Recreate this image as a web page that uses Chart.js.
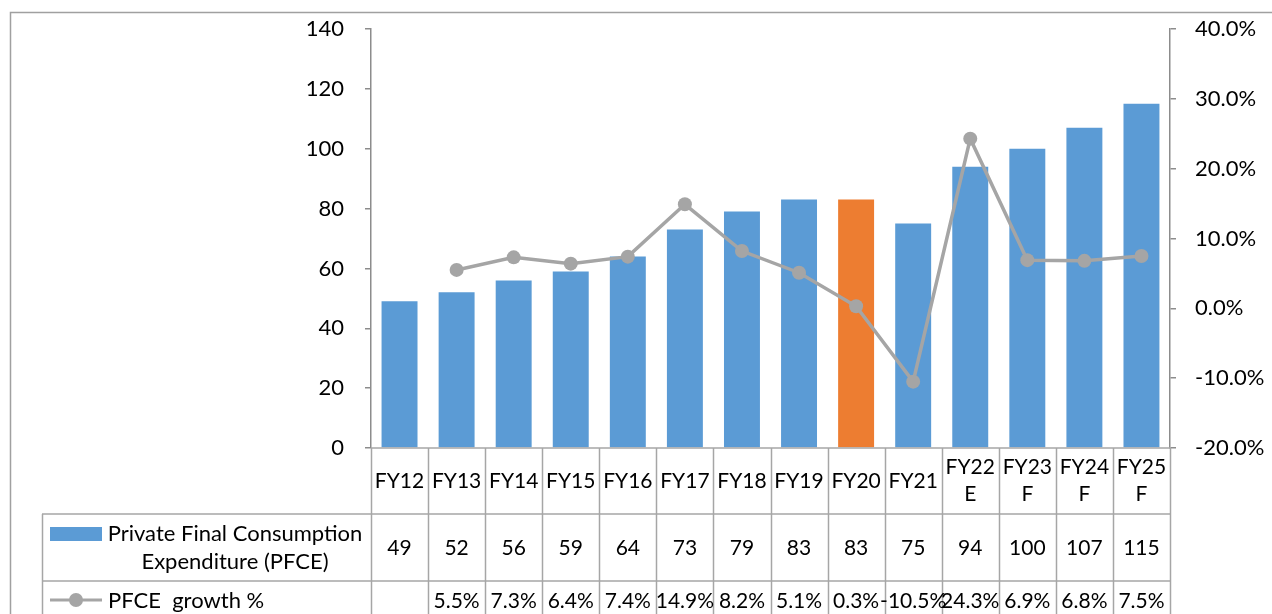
<!DOCTYPE html>
<html>
<head>
<meta charset="utf-8">
<script src="https://cdn.jsdelivr.net/npm/chart.js@4.4.1/dist/chart.umd.min.js"></script>
<style>
  html, body { margin: 0; padding: 0; background: #fff; }
  #wrap { width: 1272px; height: 614px; position: relative; }
</style>
</head>
<body>
<div id="wrap"><canvas id="myChart" width="1272" height="614"></canvas></div>
<script>
const categories = ["FY12", "FY13", "FY14", "FY15", "FY16", "FY17", "FY18", "FY19", "FY20", "FY21", "FY22 E", "FY23 F", "FY24 F", "FY25 F"];
const pfce = [49, 52, 56, 59, 64, 73, 79, 83, 83, 75, 94, 100, 107, 115];
const growth = [null, 5.5, 7.3, 6.4, 7.4, 14.9, 8.2, 5.1, 0.3, -10.5, 24.3, 6.9, 6.8, 7.5];
const leftTicks = [0, 20, 40, 60, 80, 100, 120, 140];
const rightTicks = [-20, -10, 0, 10, 20, 30, 40];

const FONT = "Lato, 'Open Sans', sans-serif";
const blue = "#5B9BD5";
const orange = "#ED7D31";
const grey = "#A5A5A5";
const axisGrey = "#8C8C8C";
const tableGrey = "#A6A6A6";

const barColors = categories.map(c => c === "FY20" ? orange : blue);

const tablePlugin = {
  id: "tablePlugin",
  beforeDraw(chart) {
    const c = chart.ctx;
    c.save();
    c.strokeStyle = "#A0A0A0";
    c.lineWidth = 1.5;
    c.beginPath();
    c.moveTo(10.5, 614);
    c.lineTo(10.5, 12.5);
    c.lineTo(1272, 12.5);
    c.stroke();
    c.restore();
  },
  afterDraw(chart) {
    const c = chart.ctx;
    const x = chart.scales.x;
    const area = chart.chartArea;
    const w = (area.right - area.left) / categories.length;
    const top = area.bottom;
    const r1 = top + 66, r2 = top + 133, bottom = 620;
    const legLeft = 42;
    c.save();
    c.strokeStyle = tableGrey;
    c.lineWidth = 1.5;
    c.beginPath();
    // horizontal lines
    c.moveTo(area.left, top); c.lineTo(area.right, top);
    c.moveTo(legLeft, r1); c.lineTo(area.right, r1);
    c.moveTo(legLeft, r2); c.lineTo(area.right, r2);
    // vertical lines
    for (let i = 0; i <= categories.length; i++) {
      const px = Math.round(area.left + i * w) + 0.5;
      c.moveTo(px, top); c.lineTo(px, bottom);
    }
    c.moveTo(legLeft + 0.5, r1); c.lineTo(legLeft + 0.5, bottom);
    c.stroke();

    c.fillStyle = "#000";
    c.font = "21px " + FONT;
    c.textAlign = "center";
    c.textBaseline = "middle";
    categories.forEach((cat, i) => {
      const cx = x.getPixelForValue(i);
      const parts = cat.split(" ");
      if (parts.length > 1) {
        c.fillText(parts[0], cx, top + 19);
        c.fillText(parts[1], cx, top + 46);
      } else {
        c.fillText(cat, cx, top + 33);
      }
      c.fillText(String(pfce[i]), cx, r1 + 34);
      if (growth[i] !== null) c.fillText(growth[i].toFixed(1) + "%", cx, r2 + 20);
    });

    // legend cells
    c.fillStyle = blue;
    c.fillRect(50, r1 + 13, 52, 14);
    c.fillStyle = "#000";
    c.font = "22px " + FONT;
    c.textAlign = "center";
    c.fillText("Private Final Consumption", 235, r1 + 20);
    c.fillText("Expenditure (PFCE)", 235, r1 + 48);
    c.strokeStyle = grey;
    c.lineWidth = 3;
    c.beginPath();
    c.moveTo(50, r2 + 19); c.lineTo(102, r2 + 19);
    c.stroke();
    c.fillStyle = grey;
    c.beginPath();
    c.arc(76, r2 + 19, 7, 0, Math.PI * 2);
    c.fill();
    c.fillStyle = "#000";
    c.textAlign = "left";
    c.fillText("PFCE  growth %", 108, r2 + 20);
    c.restore();
  }
};

const fitY = width => s => { s.width = width; s.paddingTop = 10; s.paddingBottom = 10; };

new Chart(document.getElementById("myChart"), {
  data: {
    labels: categories,
    datasets: [
      {
        type: "line",
        label: "PFCE  growth %",
        data: growth,
        yAxisID: "y1",
        borderColor: grey,
        backgroundColor: grey,
        borderWidth: 3.5,
        pointRadius: 7,
        pointHoverRadius: 7,
        pointBackgroundColor: grey,
        pointBorderWidth: 0,
        spanGaps: false,
        order: 0
      },
      {
        type: "bar",
        label: "Private Final Consumption Expenditure (PFCE)",
        data: pfce,
        yAxisID: "y",
        backgroundColor: barColors,
        categoryPercentage: 1,
        barPercentage: 0.63,
        order: 1
      }
    ]
  },
  options: {
    responsive: false,
    animation: false,
    layout: { padding: { top: 29, bottom: 166, left: 0, right: 0 } },
    plugins: { legend: { display: false }, tooltip: { enabled: false } },
    scales: {
      x: { display: false, offset: true },
      y: {
        position: "left",
        min: 0, max: 140,
        afterFit: fitY(371),
        afterBuildTicks: s => { s.ticks = leftTicks.map(v => ({ value: v })); },
        border: { color: axisGrey, width: 1.5 },
        grid: { drawOnChartArea: false, tickLength: 6, color: axisGrey, lineWidth: 1.5 },
        ticks: { padding: 21, color: "#000", font: { family: FONT, size: 22 } }
      },
      y1: {
        position: "right",
        min: -20, max: 40,
        afterFit: fitY(102),
        afterBuildTicks: s => { s.ticks = rightTicks.map(v => ({ value: v })); },
        border: { color: axisGrey, width: 1.5 },
        grid: { drawOnChartArea: false, tickLength: 6, color: axisGrey, lineWidth: 1.5 },
        ticks: { padding: 19, color: "#000", font: { family: FONT, size: 22 }, callback: v => v.toFixed(1) + "%" }
      }
    }
  },
  plugins: [tablePlugin]
});
</script>
</body>
</html>
